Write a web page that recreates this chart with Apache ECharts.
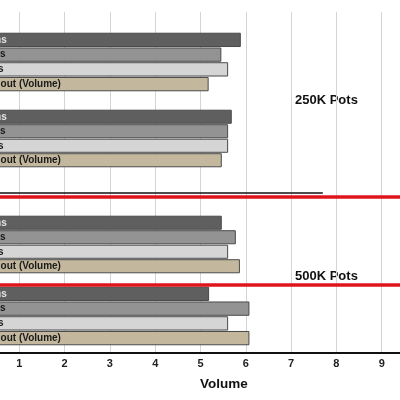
<!DOCTYPE html>
<html>
<head>
<meta charset="utf-8">
<script src="https://cdn.jsdelivr.net/npm/echarts@6/dist/echarts.min.js"></script>
<style>
  html, body { margin: 0; padding: 0; background: #fff; }
  #main { width: 400px; height: 400px; }
</style>
</head>
<body>
<div id="main"></div>
<script>
// pickup / series names (start of the labels is cut off in the picture)
var seriesNames = ['Hums', 'P-90s', 'Coils', 'Without (Volume)'];
var barColors = ['#5f5f5f', '#939393', '#d5d5d5', '#c3b89d'];
var labelColors = ['#e4e4e4', '#1a1a1a', '#1a1a1a', '#1a1a1a'];

// 250K pots, two sets
var pot250a = [5.89, 5.46, 5.61, 5.18];
var pot250b = [5.69, 5.61, 5.61, 5.47];
// 500K pots, two sets
var pot500a = [5.47, 5.78, 5.61, 5.87];
var pot500b = [5.19, 6.08, 5.61, 6.08];

var xTicks = [0, 1, 2, 3, 4, 5, 6, 7, 8, 9, 10];
var sectionTitles = ['250K Pots', '500K Pots'];
var dividerEnd = 7.7;

var groups = [pot250a, pot250b, pot500a, pot500b];
// pixel slots for each group of bars
var groupTops = [32.5, 109.5, 215.5, 286.5];
var groupHeights = [59, 58, 58, 59];

var chart = echarts.init(document.getElementById('main'));

var grids = [{ left: -26, right: -27, top: 12, bottom: 47, outerBoundsMode: 'none', containLabel: false }];
var xAxes = [{
    gridIndex: 0, type: 'value', min: xTicks[0], max: xTicks[xTicks.length - 1], interval: 1,
    axisLine: { show: true, onZero: false, lineStyle: { color: '#111', width: 2 } },
    axisTick: { show: false },
    splitLine: { show: true, lineStyle: { color: '#d4d4d4', width: 1 } },
    axisLabel: { color: '#222', fontSize: 11, fontWeight: 'bold', margin: 5, fontFamily: 'Liberation Sans, Arial' },
    name: 'Volume', nameLocation: 'middle', nameGap: 24,
    nameTextStyle: { color: '#111', fontSize: 13.5, fontWeight: 'bold', fontFamily: 'Liberation Sans, Arial', padding: [0, 0, 0, 47] }
}];
var yAxes = [{ gridIndex: 0, type: 'value', min: 0, max: 341, inverse: true, show: false }];

var series = [{
    type: 'line', xAxisIndex: 0, yAxisIndex: 0, data: [], silent: true,
    markLine: {
        symbol: 'none', silent: true, label: { show: false },
        data: [
            [{ coord: [0, 181], lineStyle: { color: '#111', width: 1.5, type: 'solid' } },
             { coord: [dividerEnd, 181] }],
            { yAxis: 184.5, lineStyle: { color: '#e0141b', width: 3.5, type: 'solid' } },
            { yAxis: 273, lineStyle: { color: '#e0141b', width: 3.5, type: 'solid' } }
        ]
    }
}];

groups.forEach(function (vals, g) {
    var gi = g + 1;
    grids.push({ left: -26, right: -27, top: groupTops[g], height: groupHeights[g], outerBoundsMode: 'none', containLabel: false });
    xAxes.push({ gridIndex: gi, type: 'value', min: 0, max: 10, show: false, splitLine: { show: false } });
    yAxes.push({ gridIndex: gi, type: 'category', data: seriesNames, inverse: true, show: false });
    series.push({
        type: 'bar', xAxisIndex: gi, yAxisIndex: gi,
        barCategoryGap: '3%',
        data: vals.map(function (v, i) {
            return {
                value: v,
                itemStyle: { color: barColors[i], borderColor: '#4a4a4a', borderWidth: 1 },
                label: { color: labelColors[i] }
            };
        }),
        label: {
            show: true, position: 'insideLeft', distance: 5, formatter: '{b}',
            fontSize: 10, fontWeight: 'bold', fontFamily: 'Liberation Sans, Arial'
        }
    });
});

chart.setOption({
    animation: false,
    grid: grids,
    xAxis: xAxes,
    yAxis: yAxes,
    series: series,
    graphic: [
        { type: 'text', left: 295, top: 94, style: { text: sectionTitles[0], fill: '#111', font: 'bold 13px Liberation Sans, Arial' } },
        { type: 'text', left: 295, top: 270, style: { text: sectionTitles[1], fill: '#111', font: 'bold 13px Liberation Sans, Arial' } }
    ]
});
</script>
</body>
</html>
